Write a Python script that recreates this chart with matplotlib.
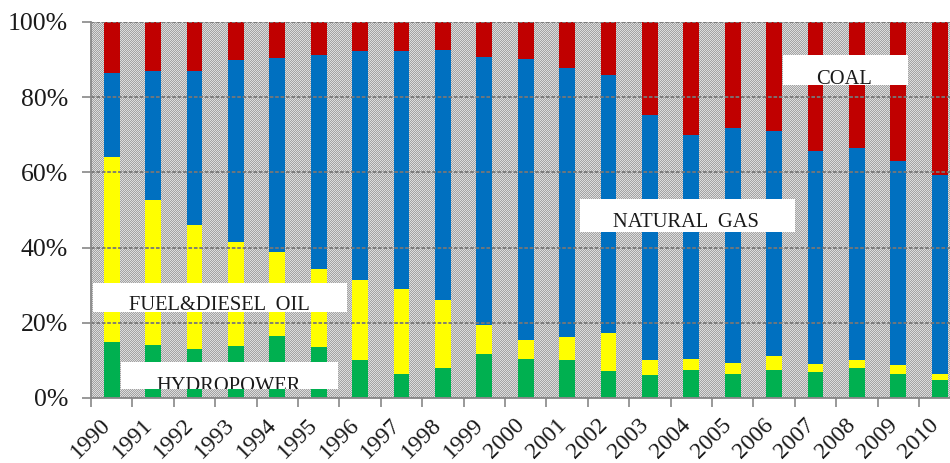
import numpy as np
import matplotlib
matplotlib.use("Agg")
import matplotlib.pyplot as plt
from matplotlib.patches import Rectangle
from matplotlib.transforms import Bbox, TransformedBbox

years = [str(y) for y in range(1990, 2011)]
hydro = [14.9, 14.2, 12.9, 13.8, 16.4, 13.6, 10.0, 6.5, 8.1, 11.6, 10.4,
         10.0, 7.2, 6.2, 7.5, 6.5, 7.5, 6.8, 8.1, 6.5, 4.9]
oil = [49.2, 38.5, 33.0, 27.6, 22.4, 20.8, 21.5, 22.4, 18.0, 7.7, 5.1,
       6.2, 10.2, 3.8, 2.9, 2.9, 3.8, 2.2, 1.9, 2.3, 1.6]
gas = [22.4, 34.2, 41.2, 48.6, 51.5, 56.9, 60.8, 63.4, 66.5, 71.4, 74.6,
       71.6, 68.5, 65.3, 59.5, 62.5, 59.6, 56.7, 56.4, 54.3, 52.9]
coal = [13.5, 13.1, 12.9, 10.0, 9.7, 8.7, 7.7, 7.7, 7.4, 9.3, 9.9,
        12.2, 14.1, 24.7, 30.1, 28.1, 29.1, 34.3, 33.6, 36.9, 40.6]
yticks = [0, 20, 40, 60, 80, 100]
ytick_labels = ["0%", "20%", "40%", "60%", "80%", "100%"]

colors = {"hydro": "#00B050", "oil": "#FFFF00", "gas": "#0070C0", "coal": "#C00000"}

plt.rcParams['font.family'] = ['Liberation Serif', 'DejaVu Serif']

fig = plt.figure(figsize=(9.5, 4.63), dpi=100)
ax = fig.add_axes([91/950, 65/463, 859/950, 376/463])

XMIN, XMAX = -0.5, 20.25

# dithered grey background
w, h = 859, 376
ii, jj = np.mgrid[0:h, 0:w]
checker = np.where((ii + jj) % 2 == 0, 0.64, 0.86)
ax.imshow(checker, cmap='gray', vmin=0, vmax=1, extent=(XMIN, XMAX, 0, 100),
          aspect='auto', interpolation='nearest', zorder=0)

x = np.arange(len(years))
bw = 0.38
bottom = np.zeros(len(years))
for key, vals in (("hydro", hydro), ("oil", oil), ("gas", gas), ("coal", coal)):
    v = np.array(vals)
    ax.bar(x, v, bw, bottom=bottom, color=colors[key], zorder=2, linewidth=0)
    bottom += v

# grid
ax.set_yticks(yticks, ytick_labels)
ax.yaxis.grid(True, color='#777777', linestyle=(0, (2, 1)), linewidth=1.3, zorder=1)
ax.set_axisbelow(False)
for gl in ax.get_ygridlines():
    gl.set_zorder(1)

# x ticks
bounds = np.arange(-0.5, len(years) - 0.5, 1.0)
ax.set_xticks(bounds)
ax.set_xticklabels([])
ax.set_xticks(x + 0.08, minor=True)
ax.set_xticklabels(years, minor=True, rotation=45, ha='right', fontsize=17)
ax.tick_params(axis='x', which='major', length=6.5, width=1.2, color='#888888', direction='out')
ax.tick_params(axis='x', which='minor', length=0, pad=12, labelcolor='#1a1a1a')
ax.tick_params(axis='y', length=6.5, width=1.2, color='#888888', pad=10,
               labelsize=18.5, labelcolor='#1a1a1a')

ax.set_xlim(XMIN, XMAX)
ax.set_ylim(0, 100)

for s in ("top", "right"):
    ax.spines[s].set_visible(False)
for s in ("left", "bottom"):
    ax.spines[s].set_color('#888888')
    ax.spines[s].set_linewidth(1.3)
    ax.spines[s].set_zorder(3)

# label boxes
labels = [
    ("FUEL&DIESEL  OIL", (-0.459, 22.9, 5.676, 30.7), 2.60, 23.4),
    ("HYDROPOWER", (0.217, 2.4, 5.473, 9.7), 2.83, 1.9),
    ("NATURAL  GAS", (11.31, 44.1, 16.50, 53.0), 13.86, 45.4),
    ("COAL", (16.22, 83.3, 19.23, 91.3), 17.70, 83.6),
]
for text, (x0, y0, x1, y1), tx, ty in labels:
    ax.add_patch(Rectangle((x0, y0), x1 - x0, y1 - y0, facecolor='white',
                           edgecolor='none', zorder=4))
    t = ax.text(tx, ty, text, ha='center', va='baseline', fontsize=14.8,
                color='#1a1a1a', zorder=5)
    t.set_clip_box(TransformedBbox(Bbox([[x0, y0], [x1, y1]]), ax.transData))
    t.set_clip_on(True)

fig.savefig("out.png", dpi=100)
